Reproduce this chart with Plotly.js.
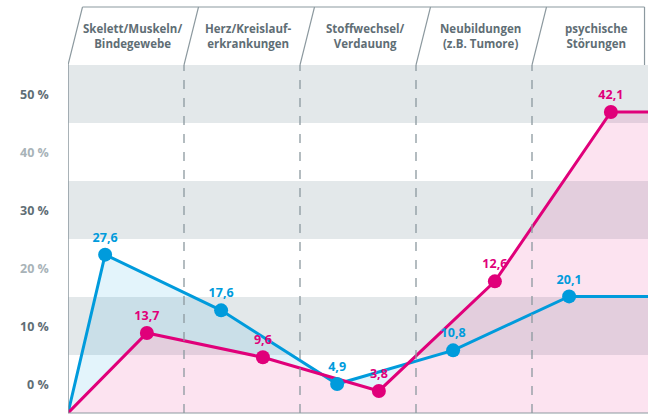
<!DOCTYPE html>
<html>
<head>
<meta charset="utf-8">
<script src="https://cdn.plot.ly/plotly-3.0.1.min.js"></script>
<style>html,body{margin:0;padding:0;background:#fff;}#chart{width:652px;height:414px;}</style>
</head>
<body>
<div id="chart"></div>
<script>
// Categories (column headers)
var categories = ["Skelett/Muskeln/<br>Bindegewebe", "Herz/Kreislauf-<br>erkrankungen", "Stoffwechsel/<br>Verdauung", "Neubildungen<br>(z.B. Tumore)", "psychische<br>Störungen"];
// Printed value labels
var blueLabels = [27.6, 17.6, 4.9, 10.8, 20.1];
var magentaLabels = [13.7, 9.6, 3.8, 12.6, 42.1];
// Levels of the points as read against the % axis in the picture
var blueLevels = [22.3, 12.7, 0.0, 5.8, 15.1];
var magentaLevels = [8.8, 4.6, -1.2, 17.7, 46.9];
// Y-axis tick labels
var yTicks = [0, 10, 20, 30, 40, 50];
var yTickText = ["0 %", "10 %", "20 %", "30 %", "40 %", "50 %"];

var BLUE = "#009bdc", MAG = "#e0007a", GRID = "#8c999f", TXT = "#5f6e75", TXT2 = "#a8b3b8", BAND = "#e3e8ea";
var YMIN = -5, YMAX = 55, XMIN = -0.5, XMAX = 4.5, OFF = 0.18;
var n = categories.length;
var idx = categories.map(function(_, i){ return i; });
var bx = idx.map(function(i){ return i - OFF; });
var mx = idx.map(function(i){ return i + OFF; });
function fmt(v){ return v.toFixed(1).replace('.', ','); }

// full polylines (start at bottom-left corner, run flat to the right edge)
function fullLine(xs, ys){
  return {x:[XMIN].concat(xs,[XMAX]), y:[YMIN].concat(ys,[ys[ys.length-1]])};
}
var bLine = fullLine(bx, blueLevels), mLine = fullLine(mx, magentaLevels);
function interp(L, x){
  for (var i = 0; i < L.x.length-1; i++){
    if (x >= L.x[i] && x <= L.x[i+1]){
      var t = (x - L.x[i])/(L.x[i+1]-L.x[i]); return L.y[i] + t*(L.y[i+1]-L.y[i]);
    }
  }
  return L.y[L.y.length-1];
}
// blue fill visible only between magenta line and blue line where blue is above
function blueBandFill(){
  var xs = bLine.x.concat(mLine.x).sort(function(a,b){return a-b;});
  var pts = [];
  for (var i = 0; i < xs.length; i++){
    if (i > 0){
      var x0 = xs[i-1], x1 = xs[i];
      var d0 = interp(bLine,x0)-interp(mLine,x0), d1 = interp(bLine,x1)-interp(mLine,x1);
      if (d0*d1 < 0){ pts.push(x0 + (x1-x0)*d0/(d0-d1)); }
    }
    pts.push(xs[i]);
  }
  var top = pts.map(function(x){ return Math.max(interp(bLine,x), interp(mLine,x)); });
  var bot = pts.map(function(x){ return interp(mLine,x); });
  return {x:pts.concat(pts.slice().reverse()), y:top.concat(bot.reverse()),
    mode:'lines', fill:'toself', fillcolor:'rgba(0,155,220,0.11)', line:{width:0}, hoverinfo:'skip', showlegend:false};
}
function pinkFill(){
  return {x:mLine.x.concat([XMAX, XMIN]), y:mLine.y.concat([YMIN, YMIN]), mode:'lines', fill:'toself',
    fillcolor:'rgba(224,0,122,0.11)', line:{width:0}, hoverinfo:'skip', showlegend:false};
}
function lineTrace(L, col){
  return {x:L.x, y:L.y, mode:'lines', line:{color:col, width:3}, hoverinfo:'skip', showlegend:false, cliponaxis:false};
}
function markTrace(xs, ys, labels, col){
  return {x:xs, y:ys, mode:'markers+text', marker:{color:col, size:14},
    text:labels.map(fmt), textposition:'top center',
    textfont:{family:'Open Sans, sans-serif', size:12.5, color:col, weight:700},
    hoverinfo:'skip', showlegend:false, cliponaxis:false};
}

var data = [
  pinkFill(),
  blueBandFill(),
  lineTrace(bLine, BLUE),
  lineTrace(mLine, MAG),
  markTrace(bx, blueLevels, blueLabels, BLUE),
  markTrace(mx, magentaLevels, magentaLabels, MAG)
];

var shapes = [];
[[45,55],[25,35],[5,15]].forEach(function(b){
  shapes.push({type:'rect', layer:'below', xref:'x', yref:'y', x0:XMIN, x1:XMAX, y0:b[0], y1:b[1], fillcolor:BAND, line:{width:0}});
});
var HTOP = 1 + 58/348, SL = 0.125;
for (var k = 0; k <= n; k++){
  var xb = XMIN + k;
  if (k > 0 && k < n){
    shapes.push({type:'line', layer:'above', xref:'x', yref:'paper', x0:xb, x1:xb, y0:0, y1:1, line:{color:GRID, width:1.3, dash:'dash'}});
  }
  if (k < n){
    shapes.push({type:'line', xref:'x', yref:'paper', x0:xb, x1:xb+SL, y0:1, y1:HTOP, line:{color:GRID, width:1.2}});
  }
}
shapes.push({type:'line', xref:'x', yref:'paper', x0:XMIN+SL, x1:XMAX-0.03, y0:HTOP, y1:HTOP, line:{color:GRID, width:1.2}});
shapes.push({type:'line', xref:'x', yref:'paper', x0:XMAX-0.03, x1:XMAX-0.03, y0:HTOP, y1:1, line:{color:GRID, width:1.2}});
shapes.push({type:'line', layer:'above', xref:'x', yref:'paper', x0:XMIN, x1:XMIN, y0:0, y1:1, line:{color:GRID, width:1.5}});
shapes.push({type:'line', layer:'above', xref:'paper', yref:'paper', x0:0, x1:1, y0:0, y1:0, line:{color:GRID, width:1.2}});

var annotations = [];
categories.forEach(function(c, i){
  annotations.push({xref:'x', yref:'paper', x:i+0.06, y:1+29/348, text:c, showarrow:false, align:'center',
    xanchor:'center', yanchor:'middle', font:{family:'Open Sans, sans-serif', size:11.5, color:TXT, weight:700}});
});
yTicks.forEach(function(t, i){
  annotations.push({xref:'paper', yref:'y', x:-0.03, y:t, text:yTickText[i], showarrow:false, xanchor:'right', yanchor:'middle',
    font:{family:'Open Sans, sans-serif', size:12.5, color:(t===20||t===40)?TXT2:TXT, weight:700}});
});

var layout = {
  width:652, height:414,
  margin:{l:68, r:4, t:65, b:1, pad:0},
  paper_bgcolor:'#ffffff', plot_bgcolor:'#ffffff',
  xaxis:{range:[XMIN, XMAX], showgrid:false, zeroline:false, showticklabels:false, ticks:'', fixedrange:true},
  yaxis:{range:[YMIN, YMAX], showgrid:false, zeroline:false, showticklabels:false, ticks:'', fixedrange:true},
  shapes:shapes, annotations:annotations, showlegend:false
};
Plotly.newPlot('chart', data, layout, {displayModeBar:false, staticPlot:true});
</script>
</body>
</html>
